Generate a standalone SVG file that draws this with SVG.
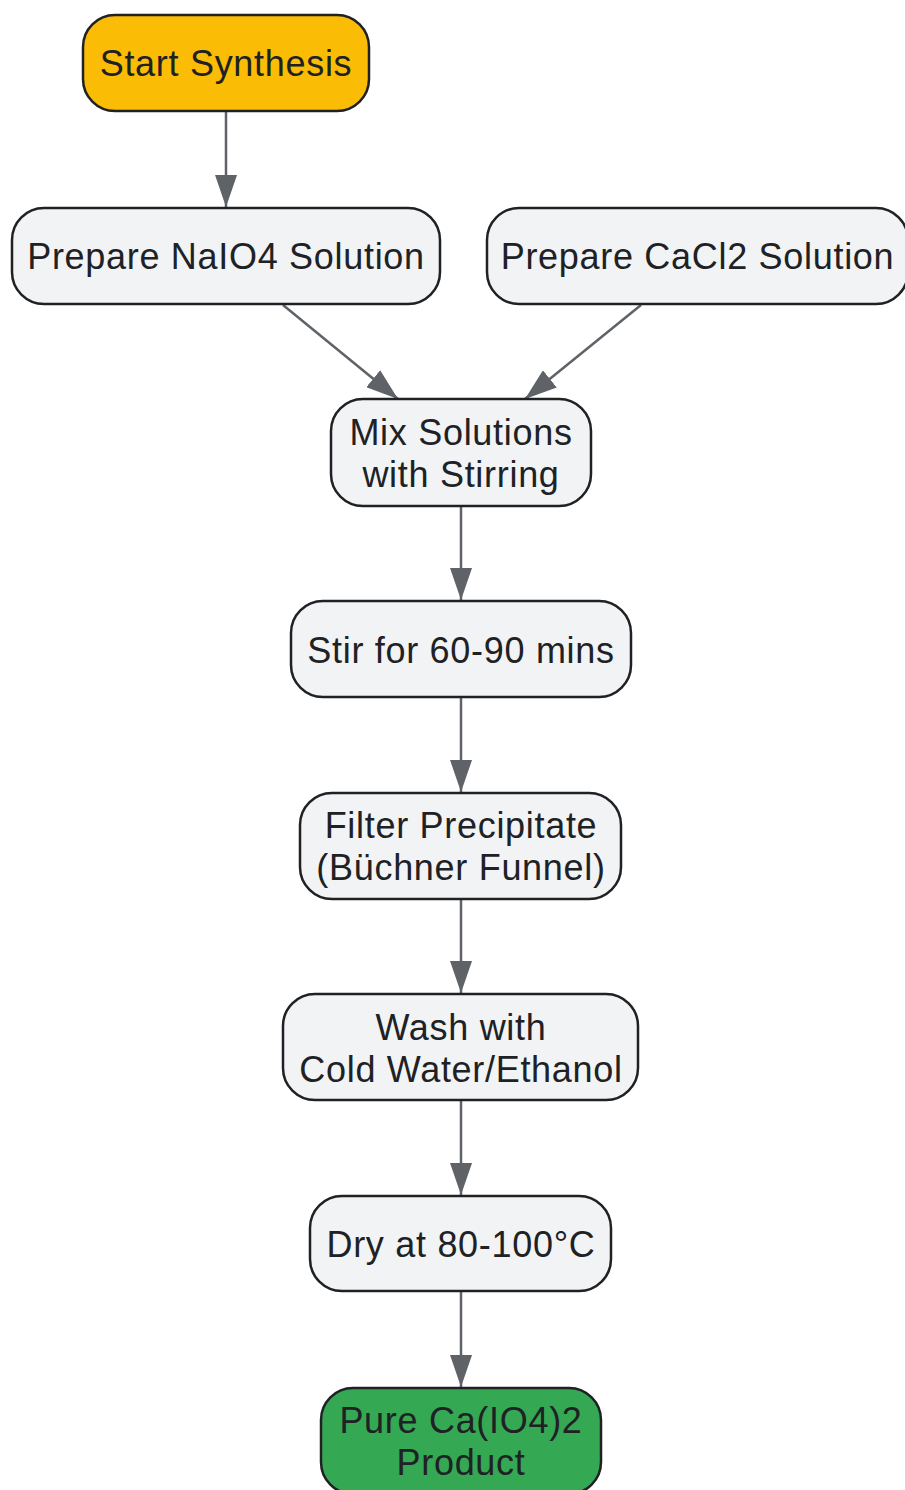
<svg xmlns="http://www.w3.org/2000/svg" width="905" height="1490" viewBox="0 0 905 1490">
<defs>
<style>
.n rect{stroke:#202124;stroke-width:2.5}
.g{fill:#f1f3f4}
.t{font-family:"Liberation Sans",Arial,sans-serif;font-size:36px;letter-spacing:0.7px;fill:#202124;text-anchor:middle}
.e line{stroke:#5f6368;stroke-width:2.5;marker-end:url(#ah)}
</style>
<marker id="ah" markerUnits="userSpaceOnUse" markerWidth="32" markerHeight="22" refX="32" refY="11" orient="auto" viewBox="0 0 32 22">
<path d="M0,0 L32,11 L0,22 z" fill="#5f6368"/>
</marker>
</defs>
<rect width="905" height="1490" fill="#ffffff"/>
<g id="connectors" class="e">
<line x1="226" y1="112" x2="226" y2="207"/>
<line x1="283" y1="305" x2="398" y2="399"/>
<line x1="641" y1="305" x2="525" y2="399"/>
<line x1="461" y1="506" x2="461" y2="600"/>
<line x1="461" y1="698" x2="461" y2="792"/>
<line x1="461" y1="899" x2="461" y2="993"/>
<line x1="461" y1="1101" x2="461" y2="1195"/>
<line x1="461" y1="1292" x2="461" y2="1387"/>
</g>
<g id="start" class="n">
<rect x="83" y="15" width="286" height="96" rx="32" fill="#fbbc05"/>
<text class="t" x="226" y="76">Start Synthesis</text>
</g>
<g id="naio4" class="n">
<rect class="g" x="12" y="208" width="428" height="96" rx="32"/>
<text class="t" x="226" y="269">Prepare NaIO4 Solution</text>
</g>
<g id="cacl2" class="n">
<rect class="g" x="487" y="208" width="421" height="96" rx="32"/>
<text class="t" x="697.5" y="269">Prepare CaCl2 Solution</text>
</g>
<g id="mix" class="n">
<rect class="g" x="331" y="399" width="260" height="107" rx="32"/>
<text class="t" x="461" y="445">Mix Solutions</text>
<text class="t" x="461" y="487">with Stirring</text>
</g>
<g id="stir" class="n">
<rect class="g" x="291" y="601" width="340" height="96" rx="32"/>
<text class="t" x="461" y="663">Stir for 60-90 mins</text>
</g>
<g id="filter" class="n">
<rect class="g" x="300" y="793" width="321" height="106" rx="32"/>
<text class="t" x="461" y="838">Filter Precipitate</text>
<text class="t" x="461" y="880">(Büchner Funnel)</text>
</g>
<g id="wash" class="n">
<rect class="g" x="283" y="994" width="355" height="106" rx="32"/>
<text class="t" x="461" y="1040">Wash with</text>
<text class="t" x="461" y="1082">Cold Water/Ethanol</text>
</g>
<g id="dry" class="n">
<rect class="g" x="310" y="1196" width="301" height="95" rx="32"/>
<text class="t" x="461" y="1257">Dry at 80-100°C</text>
</g>
<g id="product" class="n">
<rect x="321" y="1388" width="280" height="106" rx="32" fill="#34a853"/>
<text class="t" x="461" y="1433">Pure Ca(IO4)2</text>
<text class="t" x="461" y="1475">Product</text>
</g>
</svg>
